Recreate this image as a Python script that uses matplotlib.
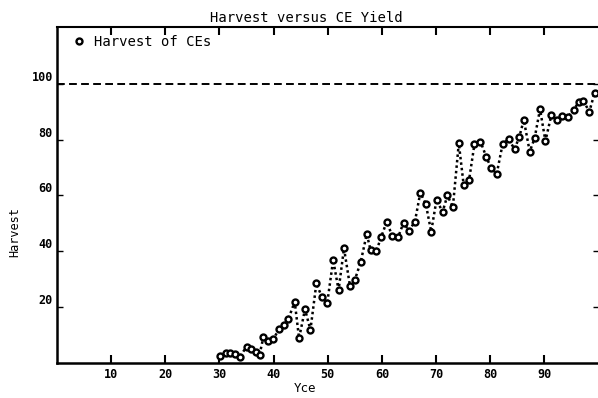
import matplotlib
matplotlib.use("Agg")
import matplotlib.pyplot as plt

# Data
yce = [30.1, 31.2, 32.0, 32.8, 33.8, 35.0, 35.9, 36.8, 37.4, 38.1, 39.0, 39.9,
       41.0, 41.9, 42.7, 43.9, 44.7, 45.8, 46.8, 47.9, 48.9, 49.9, 51.0, 52.0,
       53.0, 54.1, 55.0, 56.1, 57.2, 57.9, 59.0, 59.9, 60.9, 61.9, 63.0, 64.0,
       65.0, 66.1, 67.1, 68.1, 69.1, 70.1, 71.2, 72.1, 73.1, 74.2, 75.1, 76.1,
       77.1, 78.2, 79.3, 80.2, 81.2, 82.3, 83.4, 84.5, 85.4, 86.2, 87.3, 88.2,
       89.2, 90.2, 91.3, 92.3, 93.3, 94.3, 95.4, 96.4, 97.2, 98.3, 99.3]
harvest = [2.3, 3.3, 3.5, 3.1, 2.1, 5.7, 4.7, 3.9, 2.7, 9.0, 7.8, 8.3,
           11.9, 13.5, 15.5, 21.8, 8.7, 19.1, 11.7, 28.4, 23.6, 21.3, 36.8, 26.0,
           41.0, 27.5, 29.6, 36.2, 46.1, 40.4, 40.2, 45.2, 50.6, 45.4, 45.0, 50.2,
           47.3, 50.6, 61.0, 56.9, 47.0, 58.5, 54.0, 60.0, 55.7, 78.7, 63.7, 65.5,
           78.5, 79.3, 73.7, 69.7, 67.7, 78.5, 80.1, 76.6, 81.1, 87.1, 75.7, 80.5,
           90.9, 79.5, 88.9, 87.1, 88.3, 88.0, 90.7, 93.6, 94.0, 90.0, 96.9]
ref_level = 100
x_ticks = [10, 20, 30, 40, 50, 60, 70, 80, 90]
y_ticks = [20, 40, 60, 80, 100]

mono = "DejaVu Sans Mono"

fig = plt.figure(figsize=(5.98, 3.98), dpi=100)
ax = fig.add_axes([57 / 598, 35.5 / 398, 541.5 / 598, 336 / 398])
ax.set_xlim(0, 100)
ax.set_ylim(0, 120.6)

ax.axhline(ref_level, color="black", lw=1.4, ls=(0, (4, 2.2)), zorder=1)
line, = ax.plot(yce, harvest, ls=(0, (1, 1.2)), lw=1.8, color="black",
                marker="o", ms=4.3, mfc="white", mec="black", mew=1.7, zorder=3,
                label="Harvest of CEs")

ax.set_xticks(x_ticks)
ax.set_yticks(y_ticks)
ax.set_xticklabels([str(v) for v in x_ticks], fontfamily=mono,
                   fontweight="bold", fontsize=8.5)
ax.set_yticklabels([str(v) for v in y_ticks], fontfamily=mono,
                   fontweight="bold", fontsize=8.5)
for lbl in ax.get_yticklabels():
    lbl.set_va("bottom")
ax.tick_params(axis="x", direction="in", length=6, width=1.5, top=True,
               bottom=True, pad=4)
ax.tick_params(axis="y", direction="in", length=4, width=1.0, left=True,
               right=True, pad=3)

for side in ["left", "bottom"]:
    ax.spines[side].set_linewidth(1.8)
ax.spines["top"].set_linewidth(1.5)
ax.spines["right"].set_visible(False)

fig.text(306 / 598, 1 - 18 / 398, "Harvest versus CE Yield", ha="center",
         va="center", fontfamily=mono, fontsize=10)
fig.text(305 / 598, 1 - 389 / 398, "Yce", ha="center", va="center",
         fontfamily=mono, fontsize=9)
fig.text(15 / 598, 1 - 232 / 398, "Harvest", ha="center", va="center",
         rotation=90, fontfamily=mono, fontsize=8.5)

leg = ax.legend(handles=[line], loc="upper left", frameon=False,
                bbox_to_anchor=(62 / 598, 1 - 25 / 398),
                bbox_transform=fig.transFigure, handlelength=1.0,
                handletextpad=0.6, borderpad=0.2,
                prop={"family": mono, "size": 10})
leg.legend_handles[0].set_linestyle("none")

fig.savefig("out.png", dpi=100)
